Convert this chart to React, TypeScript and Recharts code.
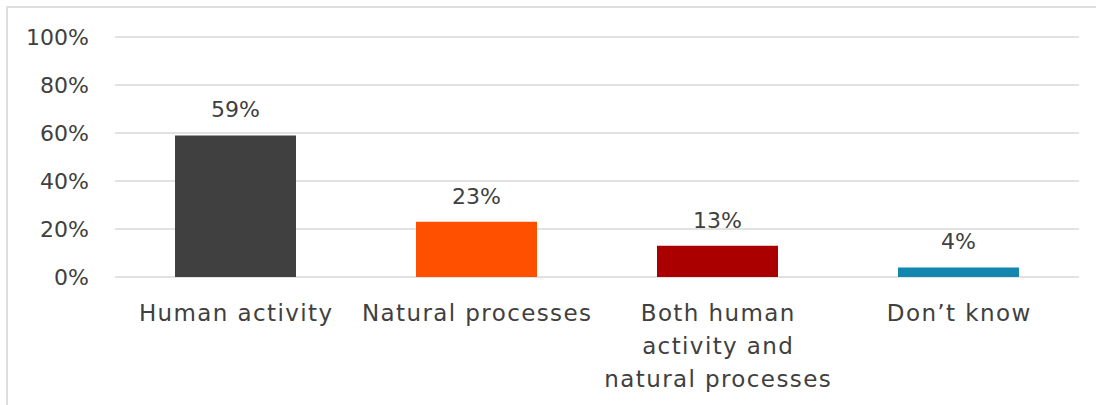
import React from "react";
import { BarChart, Bar, XAxis, YAxis, CartesianGrid, Cell, LabelList } from "recharts";

const categories = ["Human activity", "Natural processes", "Both human activity and natural processes", "Don’t know"];
const tickLines = [["Human activity"], ["Natural processes"], ["Both human", "activity and", "natural processes"], ["Don’t know"]];
const values = [59, 23, 13, 4];
const colors = ["#404040", "#FF5000", "#AA0000", "#1286AE"];
const yTicks = [0, 20, 40, 60, 80, 100];

const data = categories.map((c, i) => ({ name: c, value: values[i], idx: i }));

const FONT = "'DejaVu Sans', sans-serif";
const TEXT = "#404040";

const XTick = (props: any) => {
  const { x, y, index } = props;
  const lines = tickLines[index] || [];
  return (
    <g transform={`translate(${x},${y})`}>
      {lines.map((l: string, i: number) => (
        <text
          key={i}
          x={0.7}
          y={44 + i * 33}
          textAnchor="middle"
          fill={TEXT}
          fontSize={23}
          fontFamily={FONT}
          letterSpacing={1.4}
        >
          {l}
        </text>
      ))}
    </g>
  );
};

export default function App() {
  return (
    <div
      style={{
        position: "absolute",
        left: 6,
        top: 6,
        width: 1090,
        height: 399,
        borderTop: "2px solid #dedede",
        borderLeft: "2px solid #dedede",
        background: "#fff",
      }}
    >
      <BarChart width={1088} height={397} data={data} margin={{ top: 29, right: 17, left: 0, bottom: 8 }}>
        <CartesianGrid horizontal vertical={false} stroke="#d9d9d9" strokeWidth={1.5} />
        <XAxis dataKey="name" axisLine={false} tickLine={false} tickSize={0} tickMargin={0} height={120} interval={0} tick={<XTick />} />
        <YAxis
          domain={[0, 100]}
          ticks={yTicks}
          width={107}
          axisLine={false}
          tickLine={false}
          tickSize={0}
          tickMargin={26}
          tickFormatter={(v: number) => `${v}%`}
          tick={{ fill: TEXT, fontSize: 22, fontFamily: FONT }}
        />
        <Bar dataKey="value" barSize={121} isAnimationActive={false}>
          {data.map((d, i) => (
            <Cell key={i} fill={colors[i]} />
          ))}
          <LabelList
            dataKey="value"
            position="top"
            offset={18}
            formatter={(v: any) => `${v}%`}
            fill={TEXT}
            fontSize={22}
            fontFamily={FONT}
          />
        </Bar>
      </BarChart>
    </div>
  );
}
